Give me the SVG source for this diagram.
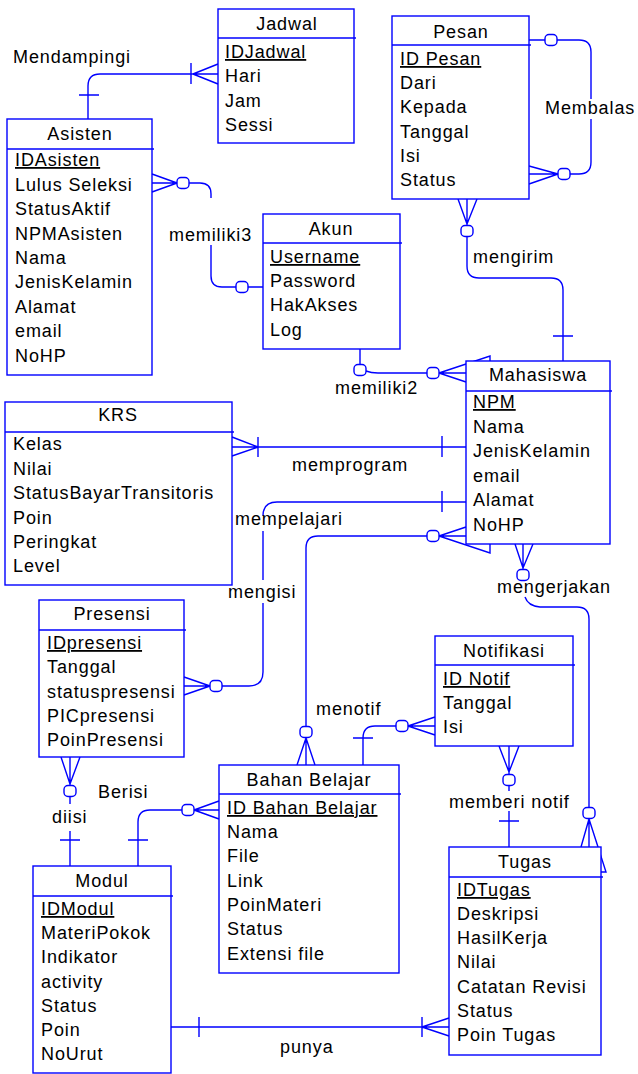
<svg xmlns="http://www.w3.org/2000/svg" width="638" height="1074" viewBox="0 0 638 1074">
<style>
.b{fill:#fff;stroke:#0000ff;stroke-width:1.4}
.d{fill:none;stroke:#0000ff;stroke-width:1.4}
.c{fill:none;stroke:#0000ff;stroke-width:1.4}
.o{fill:#fff;stroke:#0000ff;stroke-width:1.4}
text{font-family:"Liberation Sans",Arial,sans-serif;font-size:18px;letter-spacing:0.9px;fill:#000}
.t{text-anchor:middle}
.k{text-decoration:underline}
</style>
<rect width="638" height="1074" fill="#fff"/>
<g id="connectors">
  <!-- Mendampingi -->
  <path class="c" d="M88,119 V86 Q88,74 100,74 H218 M79,95 H99 M191,63 V84 M193,74 L218,64 M193,74 L218,84"/>
  <text x="13" y="63">Mendampingi</text>
  <!-- memiliki3 -->
  <path class="c" d="M152,174 L177,183 M152,192 L177,183 M152,183 H177 M189,183 H200 Q211,183 211,194 V198 M211,245 V276 Q211,287 222,287 H236 M248,287 H263"/>
  <rect class="o" x="177" y="177.5" width="12" height="11" rx="4"/>
  <rect class="o" x="236" y="281.5" width="12" height="11" rx="4"/>
  <text x="169" y="241">memiliki3</text>
  <!-- memiliki2 -->
  <path class="c" d="M360,349 V364 M366,371 Q371,373 378,373 H427 M439,373 L490,356 V364 M439,373 H466 M439,373 L466,382"/>
  <rect class="o" x="354" y="364.5" width="12" height="11" rx="4"/>
  <rect class="o" x="427" y="367.5" width="12" height="11" rx="4"/>
  <text x="335" y="394">memiliki2</text>
  <!-- mengirim -->
  <path class="c" d="M458,199 L467,224 M477,199 L467,224 M467,199 V225 M467,237 V266 Q467,278 479,278 H551 Q563,278 563,290 V361 M553,336 H573"/>
  <rect class="o" x="461" y="225.5" width="12" height="11" rx="4"/>
  <text x="473" y="263">mengirim</text>
  <!-- Membalas -->
  <path class="c" d="M529,40 H545 M557,40 H579 Q591,40 591,52 V99 M591,119 V162 Q591,174 579,174 H570 M558,174 L529,166 M558,174 H529 M558,174 L529,184"/>
  <rect class="o" x="545" y="34.5" width="12" height="11" rx="4"/>
  <rect class="o" x="558" y="168.5" width="12" height="11" rx="4"/>
  <text x="545" y="114">Membalas</text>
  <!-- memprogram -->
  <path class="c" d="M232,437 L258,447 M232,456 L258,447 M232,447 H466 M258,437 V457 M442,436 V457"/>
  <text x="292" y="471">memprogram</text>
  <!-- mengisi (Mahasiswa - Presensi) -->
  <path class="c" d="M466,502 H277 Q263,502 263,516 M263,531 V580 M263,603 V672 Q263,686 249,686 H222 M442,491 V512 M210,686 L184,677 M210,686 H184 M210,686 L184,695"/>
  <rect class="o" x="210" y="680.5" width="12" height="11" rx="4"/>
  <text x="235" y="525">mempelajari</text>
  <text x="228" y="598">mengisi</text>
  <!-- mempelajari (Mahasiswa - Bahan Belajar) -->
  <path class="c" d="M439,536 L466,527 M439,536 H466 M439,536 L490,553 V544 M427,536 H318 Q306,536 306,548 V727 M306,738 L297,765 M306,738 L315,765 M306,738 V765"/>
  <rect class="o" x="427" y="530.5" width="12" height="11" rx="4"/>
  <rect class="o" x="300" y="726.5" width="12" height="11" rx="4"/>
  <!-- menotif -->
  <path class="c" d="M363,765 V738 Q363,726 375,726 H396 M353,738 H373 M408,726 L435,717 M408,726 H435 M408,726 L435,735"/>
  <rect class="o" x="396" y="720.5" width="12" height="11" rx="4"/>
  <text x="316" y="715">menotif</text>
  <!-- memberi notif -->
  <path class="c" d="M499,746 L509,772 M519,746 L509,772 M509,746 V774 M509,786 V791 M509,811 V847 M499,821 H519"/>
  <rect class="o" x="503" y="774.5" width="12" height="11" rx="4"/>
  <text x="449" y="808">memberi notif</text>
  <!-- mengerjakan -->
  <path class="c" d="M515,544 L523,568 M533,544 L523,568 M523,544 V570 M525,597 Q528,606 540,607 H577 Q589,607 589,619 V808 M589,819 L581,847 M589,819 V847 M589,819 L598,847 L606,872 H601"/>
  <rect class="o" x="517" y="569.5" width="12" height="11" rx="4"/>
  <rect class="o" x="583" y="807.5" width="12" height="11" rx="4"/>
  <text x="497" y="593">mengerjakan</text>
  <!-- Berisi -->
  <path class="c" d="M138,866 V822 Q138,810 150,810 H182 M128,840 H148 M194,810 L219,801 M194,810 H219 M194,810 L219,819"/>
  <rect class="o" x="182" y="804.5" width="12" height="11" rx="4"/>
  <text x="98" y="798">Berisi</text>
  <!-- diisi -->
  <path class="c" d="M61,757 L70,784 M80,757 L70,784 M70,757 V786 M70,797 V804 M70,831 V866 M60,840 H80"/>
  <rect class="o" x="64" y="785.5" width="12" height="11" rx="4"/>
  <text x="52" y="823">diisi</text>
  <!-- punya -->
  <path class="c" d="M171,1027 H449 M199,1017 V1037 M422,1017 V1037 M422,1027 L449,1018 M422,1027 L449,1036"/>
  <text x="280" y="1053">punya</text>
</g>
<g id="jadwal">
  <rect class="b" x="218" y="9" width="136" height="134"/>
  <path class="d" d="M218,38 H356"/>
  <text class="t" x="287" y="30">Jadwal</text>
  <text class="k" x="225" y="58">IDJadwal</text>
  <text x="225" y="82">Hari</text>
  <text x="225" y="107">Jam</text>
  <text x="225" y="131">Sessi</text>
</g>
<g id="pesan">
  <rect class="b" x="392" y="16" width="137" height="183"/>
  <path class="d" d="M392,45 H531"/>
  <text class="t" x="461" y="38">Pesan</text>
  <text class="k" x="400" y="65">ID Pesan</text>
  <text x="400" y="89">Dari</text>
  <text x="400" y="113">Kepada</text>
  <text x="400" y="138">Tanggal</text>
  <text x="400" y="162">Isi</text>
  <text x="400" y="186">Status</text>
</g>
<g id="asisten">
  <rect class="b" x="7" y="119" width="145" height="256"/>
  <path class="d" d="M7,149 H154"/>
  <text class="t" x="80" y="140">Asisten</text>
  <text class="k" x="15" y="166">IDAsisten</text>
  <text x="15" y="191">Lulus Seleksi</text>
  <text x="15" y="215">StatusAktif</text>
  <text x="15" y="240">NPMAsisten</text>
  <text x="15" y="264">Nama</text>
  <text x="15" y="288">JenisKelamin</text>
  <text x="15" y="313">Alamat</text>
  <text x="15" y="337">email</text>
  <text x="15" y="362">NoHP</text>
</g>
<g id="akun">
  <rect class="b" x="263" y="214" width="137" height="135"/>
  <path class="d" d="M263,243 H402"/>
  <text class="t" x="331" y="235">Akun</text>
  <text class="k" x="270" y="263">Username</text>
  <text x="270" y="287">Password</text>
  <text x="270" y="311">HakAkses</text>
  <text x="270" y="336">Log</text>
</g>
<g id="mahasiswa">
  <rect class="b" x="466" y="361" width="144" height="183"/>
  <path class="d" d="M466,391 H612"/>
  <text class="t" x="538" y="381">Mahasiswa</text>
  <text class="k" x="473" y="408">NPM</text>
  <text x="473" y="433">Nama</text>
  <text x="473" y="457">JenisKelamin</text>
  <text x="473" y="482">email</text>
  <text x="473" y="506">Alamat</text>
  <text x="473" y="531">NoHP</text>
</g>
<g id="krs">
  <rect class="b" x="5" y="402" width="227" height="183"/>
  <path class="d" d="M5,432 H234"/>
  <text class="t" x="118" y="421">KRS</text>
  <text x="13" y="450">Kelas</text>
  <text x="13" y="475">Nilai</text>
  <text x="13" y="499">StatusBayarTransitoris</text>
  <text x="13" y="524">Poin</text>
  <text x="13" y="548">Peringkat</text>
  <text x="13" y="572">Level</text>
</g>
<g id="presensi">
  <rect class="b" x="39" y="600" width="145" height="157"/>
  <path class="d" d="M39,630 H186"/>
  <text class="t" x="112" y="620">Presensi</text>
  <text class="k" x="47" y="649">IDpresensi</text>
  <text x="47" y="673">Tanggal</text>
  <text x="47" y="698">statuspresensi</text>
  <text x="47" y="722">PICpresensi</text>
  <text x="47" y="746">PoinPresensi</text>
</g>
<g id="bahan-belajar">
  <rect class="b" x="219" y="765" width="180" height="208"/>
  <path class="d" d="M219,794 H401"/>
  <text class="t" x="309" y="786">Bahan Belajar</text>
  <text class="k" x="227" y="814">ID Bahan Belajar</text>
  <text x="227" y="838">Nama</text>
  <text x="227" y="862">File</text>
  <text x="227" y="887">Link</text>
  <text x="227" y="911">PoinMateri</text>
  <text x="227" y="935">Status</text>
  <text x="227" y="960">Extensi file</text>
</g>
<g id="notifikasi">
  <rect class="b" x="435" y="636" width="138" height="110"/>
  <path class="d" d="M435,665 H575"/>
  <text class="t" x="504" y="657">Notifikasi</text>
  <text class="k" x="443" y="685">ID Notif</text>
  <text x="443" y="709">Tanggal</text>
  <text x="443" y="733">Isi</text>
</g>
<g id="modul">
  <rect class="b" x="33" y="866" width="138" height="207"/>
  <path class="d" d="M33,896 H173"/>
  <text class="t" x="102" y="887">Modul</text>
  <text class="k" x="41" y="915">IDModul</text>
  <text x="41" y="939">MateriPokok</text>
  <text x="41" y="963">Indikator</text>
  <text x="41" y="988">activity</text>
  <text x="41" y="1012">Status</text>
  <text x="41" y="1036">Poin</text>
  <text x="41" y="1060">NoUrut</text>
</g>
<g id="tugas">
  <rect class="b" x="449" y="847" width="152" height="208"/>
  <path class="d" d="M449,877 H603"/>
  <text class="t" x="525" y="868">Tugas</text>
  <text class="k" x="457" y="896">IDTugas</text>
  <text x="457" y="920">Deskripsi</text>
  <text x="457" y="944">HasilKerja</text>
  <text x="457" y="968">Nilai</text>
  <text x="457" y="993">Catatan Revisi</text>
  <text x="457" y="1017">Status</text>
  <text x="457" y="1041">Poin Tugas</text>
</g>
</svg>
